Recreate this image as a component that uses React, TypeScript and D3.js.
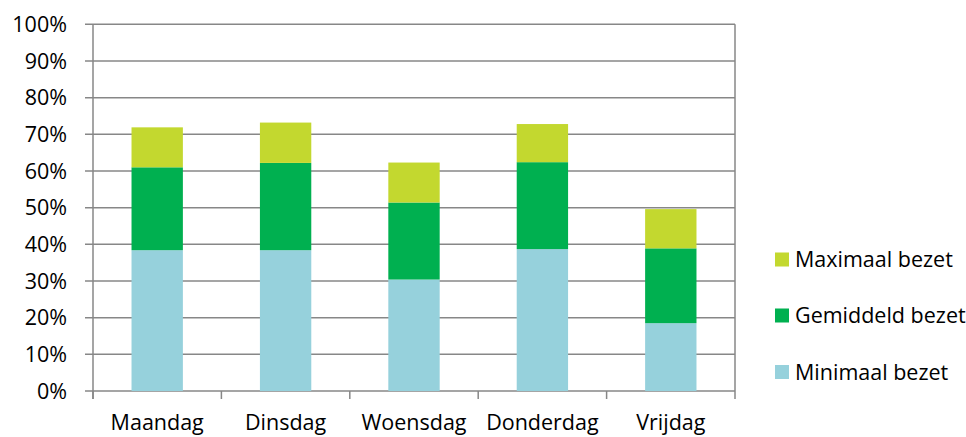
import React from "react";
import * as d3 from "d3";

const categories = ["Maandag", "Dinsdag", "Woensdag", "Donderdag", "Vrijdag"];
const minimaal = [38.4, 38.4, 30.4, 38.7, 18.5];
const gemiddeld = [22.6, 23.8, 21.0, 23.7, 20.4];
const maximaal = [10.9, 11.0, 10.9, 10.4, 10.7];
const seriesNames = ["Minimaal bezet", "Gemiddeld bezet", "Maximaal bezet"];
const seriesColors = ["#96D1DC", "#00B050", "#C3D82F"];
const yTicks = [0, 10, 20, 30, 40, 50, 60, 70, 80, 90, 100];

const W = 966, H = 437;
const left = 93, right = 735, top = 24.3, bottom = 391;
const font = "'Open Sans', sans-serif";

export default function App() {
  const x = d3.scaleBand<string>().domain(categories).range([left, right]).paddingInner(0.6).paddingOuter(0.3);
  const xb = d3.scaleBand<string>().domain(categories).range([left, right]);
  const y = d3.scaleLinear().domain([0, 100]).range([bottom, top]);
  const table = categories.map((c, i) => ({ cat: c, m0: minimaal[i], m1: gemiddeld[i], m2: maximaal[i] }));
  const stack = d3.stack<any>().keys(["m0", "m1", "m2"])(table);
  const legendOrder = [2, 1, 0];
  const legendY = [259.5, 315.5, 372];

  return (
    <svg width={W} height={H} style={{ position: "absolute", left: 0, top: 0, background: "#fff" }}>
      {yTicks.map((t) => (
        <g key={t}>
          <line x1={85} x2={right} y1={y(t)} y2={y(t)} stroke="#878787" strokeWidth={1.5} />
          <text x={67} y={y(t)} dy="0.36em" textAnchor="end" fontFamily={font} fontSize={21.5} fill="#000">{t}%</text>
        </g>
      ))}
      <line x1={left} x2={left} y1={top} y2={bottom + 8} stroke="#878787" strokeWidth={1.5} />
      <line x1={right} x2={right} y1={top} y2={bottom + 8} stroke="#878787" strokeWidth={1.5} />
      {categories.map((c) => (
        <line key={c} x1={xb(c)!} x2={xb(c)!} y1={bottom} y2={bottom + 8} stroke="#878787" strokeWidth={1.5} />
      ))}
      {stack.map((s, si) => (
        <g key={si} fill={seriesColors[si]}>
          {s.map((d: any) => (
            <rect key={d.data.cat} x={x(d.data.cat)!} width={x.bandwidth()} y={y(d[1])} height={y(d[0]) - y(d[1])} />
          ))}
        </g>
      ))}
      {categories.map((c) => (
        <text key={c} x={xb(c)! + xb.bandwidth() / 2} y={430} textAnchor="middle" fontFamily={font} fontSize={21.5} fill="#000">{c}</text>
      ))}
      {legendOrder.map((si, k) => (
        <g key={si}>
          <rect x={775} y={legendY[k] - 7} width={14} height={14} fill={seriesColors[si]} />
          <text x={795} y={legendY[k]} dy="0.36em" fontFamily={font} fontSize={21.5} fill="#000">{seriesNames[si]}</text>
        </g>
      ))}
    </svg>
  );
}
